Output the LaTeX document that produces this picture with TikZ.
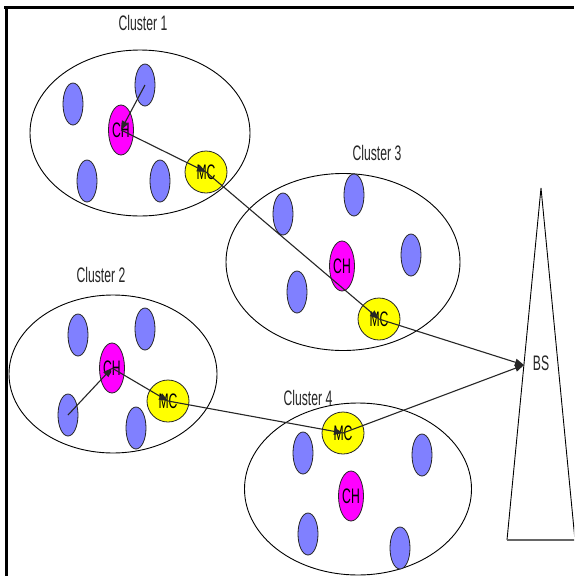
\documentclass[tikz,border=0pt]{standalone}
\usepackage{fontspec}
\setmainfont{Liberation Sans}
\newfontfamily\narrowsans[FakeStretch=0.58]{Liberation Sans}
\usetikzlibrary{shapes.geometric,arrows.meta}

\definecolor{sensorblue}{RGB}{128,128,255}
\definecolor{headpink}{RGB}{255,0,255}
\definecolor{mcyellow}{RGB}{255,255,0}

\tikzset{
  txt/.style={font=\narrowsans\fontsize{21}{21}\selectfont},
  cluster/.style={ellipse,draw=black,line width=0.9pt,inner sep=0pt,fill=none},
  sensor/.style={ellipse,draw=black!85,line width=0.8pt,fill=sensorblue,
                 minimum width=20pt,minimum height=42pt,inner sep=0pt},
  headnode/.style={ellipse,draw=black!85,line width=0.8pt,fill=headpink,
                 minimum width=25pt,minimum height=50pt,inner sep=0pt,txt},
  mcnode/.style={circle,draw=black!85,line width=0.8pt,fill=mcyellow,
                 minimum size=42pt,inner sep=0pt,txt},
  label/.style={txt,inner sep=0pt,text=black!85},
  link/.style={draw=black!85,line width=1.1pt,-{Triangle[length=9pt,width=7pt]}}
}

\begin{document}
\begin{tikzpicture}[x=1pt,y=-1pt]
\clip (0,0) rectangle (574,576);
\fill[white] (0,0) rectangle (574,576);

% frame
\draw[line width=3pt] (4,7.5) -- (574,7.5);
\draw[line width=3pt] (6.5,6) -- (6.5,576);

% base station
\draw[line width=0.9pt] (575,540) -- (541,188) -- (507,540);
\draw[line width=1.6pt,black!60] (507,540) -- (576,540);
\coordinate (bs) at (524,365);
\node[label] (bslabel) at (541,363) {BS};

% cluster outlines and titles
\node[cluster,minimum width=220pt,minimum height=166pt] (c1) at (140,133) {};
\node[cluster,minimum width=234pt,minimum height=177pt] (c3) at (343,262) {};
\node[cluster,minimum width=208pt,minimum height=158pt] (c2) at (113,374) {};
\node[cluster,minimum width=227pt,minimum height=172pt] (c4) at (358,489) {};
\node[label] (t1) at (143,23) {Cluster 1};
\node[label] (t3) at (377,153) {Cluster 3};
\node[label] (t2) at (101,275) {Cluster 2};
\node[label] (t4) at (308,398) {Cluster 4};

% cluster 1
\node[sensor] (s1a) at (73,104) {};
\node[sensor] (s1b) at (145,85) {};
\node[sensor] (s1c) at (87,181) {};
\node[sensor] (s1d) at (160,181) {};
\node[headnode] (ch1) at (121,130) {CH};
\node[mcnode] (mc1) at (206,172) {MC};

% cluster 3
\node[sensor] (s3a) at (283,214) {};
\node[sensor] (s3b) at (354,195) {};
\node[sensor] (s3c) at (411,255) {};
\node[sensor] (s3d) at (297,292) {};
\node[headnode] (ch3) at (342,266) {CH};
\node[mcnode] (mc3) at (379,319) {MC};

% cluster 2
\node[sensor] (s2a) at (78,335) {};
\node[sensor] (s2b) at (145,329) {};
\node[sensor] (s2c) at (68,415) {};
\node[sensor] (s2d) at (136,428) {};
\node[headnode] (ch2) at (112,368) {CH};
\node[mcnode] (mc2) at (168,401) {MC};

% cluster 4
\node[sensor] (s4a) at (303,453) {};
\node[sensor] (s4b) at (422,455) {};
\node[sensor] (s4c) at (308,534) {};
\node[sensor] (s4d) at (400,548) {};
\node[headnode] (ch4) at (351,496) {CH};
\node[mcnode] (mc4) at (343,433) {MC};

% data forwarding paths
\draw[link] (s1b.center) -- (ch1.center);
\draw[link] (ch1.center) -- (mc1.center);
\draw[link] (mc1.center) -- (mc3.center);
\draw[link] (mc3.center) -- (bs);
\draw[link] (s2c.center) -- (ch2.center);
\draw[link] (ch2.center) -- (mc2.center);
\draw[link] (mc2.center) -- (mc4.center);
\draw[link] (mc4.center) -- (bs);
\end{tikzpicture}
\end{document}
